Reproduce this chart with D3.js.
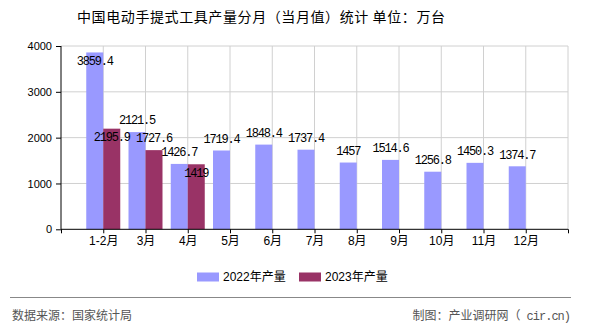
<!DOCTYPE html>
<html><head><meta charset="utf-8">
<script src="https://cdn.jsdelivr.net/npm/d3@7"></script>
<style>
body{margin:0;background:#fff;}
svg{display:block;}
</style></head>
<body>
<svg id="c" width="590" height="330"></svg>
<script>
const titleText = "中国电动手提式工具产量分月（当月值）统计 单位：万台";
const categories = ["1-2月","3月","4月","5月","6月","7月","8月","9月","10月","11月","12月"];
const seriesNames = ["2022年产量","2023年产量"];
const values2022 = [3859.4, 2121.5, 1426.7, 1719.4, 1848.4, 1737.4, 1457, 1514.6, 1256.8, 1450.3, 1374.7];
const values2023 = [2195.9, 1727.6, 1419];
const yTicks = [0, 1000, 2000, 3000, 4000];
const colors = ["#9999FF", "#993366"];
const sourceText = "数据来源：国家统计局";
const creditPrefix = "制图：产业调研网（";
const creditSuffix = " cir.cn)";

(function () {
const svg = d3.select("#c");
const pLeft = 61, pRight = 568, pTop = 46, pBottom = 229.3;
const sans = "'Liberation Sans','Noto Sans CJK SC',sans-serif";
const cjk = "'Noto Sans CJK SC',sans-serif";
const mono = "'Liberation Mono',monospace";

const x = d3.scaleLinear().domain([0, categories.length + 1]).range([pLeft, pRight]);
const y = d3.scaleLinear().domain([0, 4000]).range([pBottom, pTop]);
const sub = d3.scaleBand().domain(seriesNames).range([-17, 17]).padding(0);

// title
svg.append("text").attr("x", 77).attr("y", 22).attr("text-anchor", "start")
  .attr("textLength", 368).attr("lengthAdjust", "spacing")
  .attr("font-family", cjk).attr("font-size", 14).attr("fill", "#000").text(titleText);

// grid
const g = svg.append("g");
g.selectAll("line.h").data(yTicks.filter(d => d > 0)).join("line")
  .attr("x1", pLeft).attr("x2", pRight).attr("y1", d => y(d)).attr("y2", d => y(d))
  .attr("stroke", "#d0d0d0").attr("stroke-width", 1);
g.selectAll("line.v").data(d3.range(1, categories.length + 2)).join("line")
  .attr("x1", d => x(d)).attr("x2", d => x(d)).attr("y1", pTop).attr("y2", pBottom)
  .attr("stroke", "#d0d0d0").attr("stroke-width", 1);

// bars
const series = [values2022, values2023];
const bars = svg.append("g");
series.forEach((vals, si) => {
  bars.selectAll("rect.s" + si).data(vals).join("rect")
    .attr("class", "s" + si)
    .attr("x", (d, i) => x(i + 1) + sub(seriesNames[si]))
    .attr("y", d => y(d))
    .attr("width", sub.bandwidth())
    .attr("height", d => pBottom - y(d))
    .attr("fill", colors[si]);
});

// axes
const yAxis = svg.append("g").attr("transform", `translate(${pLeft},0)`)
  .call(d3.axisLeft(y).tickValues(yTicks).tickSize(5).tickPadding(4).tickFormat(d3.format("d")));
yAxis.select(".domain").attr("stroke", "#000").attr("d", `M0,${pTop}V${pBottom}`);
yAxis.selectAll("text").attr("font-family", sans).attr("font-size", 11).attr("fill", "#000");

const xAxis = svg.append("g").attr("transform", `translate(0,${pBottom})`)
  .call(d3.axisBottom(x).tickValues(d3.range(0, categories.length + 2)).tickSize(4).tickPadding(3)
    .tickFormat(i => (i >= 1 && i <= categories.length) ? categories[i - 1] : ""));
xAxis.select(".domain").attr("stroke", "#000").attr("d", `M${pLeft},0H${pRight}`);
xAxis.selectAll("text").attr("font-family", sans).attr("font-size", 12).attr("fill", "#000");

// data labels with simple collision avoidance
const labels = svg.append("g");
const placed = [];
function overlaps(a, b) {
  return a.x0 < b.x1 && a.x1 > b.x0 && a.y0 < b.y1 && a.y1 > b.y0;
}
series.forEach((vals, si) => {
  vals.forEach((v, i) => {
    const cx = x(i + 1) + sub(seriesNames[si]) + sub.bandwidth() / 2;
    const t = labels.append("text").attr("x", cx).attr("text-anchor", "middle")
      .attr("font-family", mono).attr("font-size", 12)
      .attr("letter-spacing", "-1.2px").attr("fill", "#000").text(String(v));
    const w = t.node().getComputedTextLength();
    let cy = y(v) - 12;
    let box = {x0: cx - w / 2, x1: cx + w / 2, y0: cy - 6, y1: cy + 6};
    if (box.y0 < pTop || placed.some(b => overlaps(b, box))) {
      cy = y(v) + 8.5;
      box = {x0: cx - w / 2, x1: cx + w / 2, y0: cy - 6, y1: cy + 6};
    }
    placed.push(box);
    t.attr("y", cy).attr("dy", "0.35em");
  });
});

// legend
const legX = [197, 299];
seriesNames.forEach((n, i) => {
  svg.append("rect").attr("x", legX[i]).attr("y", 272.5).attr("width", 22).attr("height", 9).attr("fill", colors[i]);
  svg.append("text").attr("x", legX[i] + 26).attr("y", 277).attr("dy", "0.35em")
    .attr("font-family", sans).attr("font-size", 12).attr("fill", "#000").text(n);
});

// footer
svg.append("line").attr("x1", 10).attr("x2", 571).attr("y1", 297.5).attr("y2", 297.5)
  .attr("stroke", "#888").attr("stroke-width", 1);
svg.append("text").attr("x", 12).attr("y", 316).attr("dy", "0.35em")
  .attr("font-family", cjk).attr("font-size", 12).attr("fill", "#555").text(sourceText);
const credit = svg.append("text").attr("x", 570).attr("y", 316).attr("dy", "0.35em").attr("text-anchor", "end")
  .attr("font-size", 12).attr("fill", "#555");
credit.append("tspan").attr("font-family", cjk).text(creditPrefix);
credit.append("tspan").attr("font-family", mono).attr("letter-spacing", "-1px").text(creditSuffix);
})();
</script>
</body></html>
